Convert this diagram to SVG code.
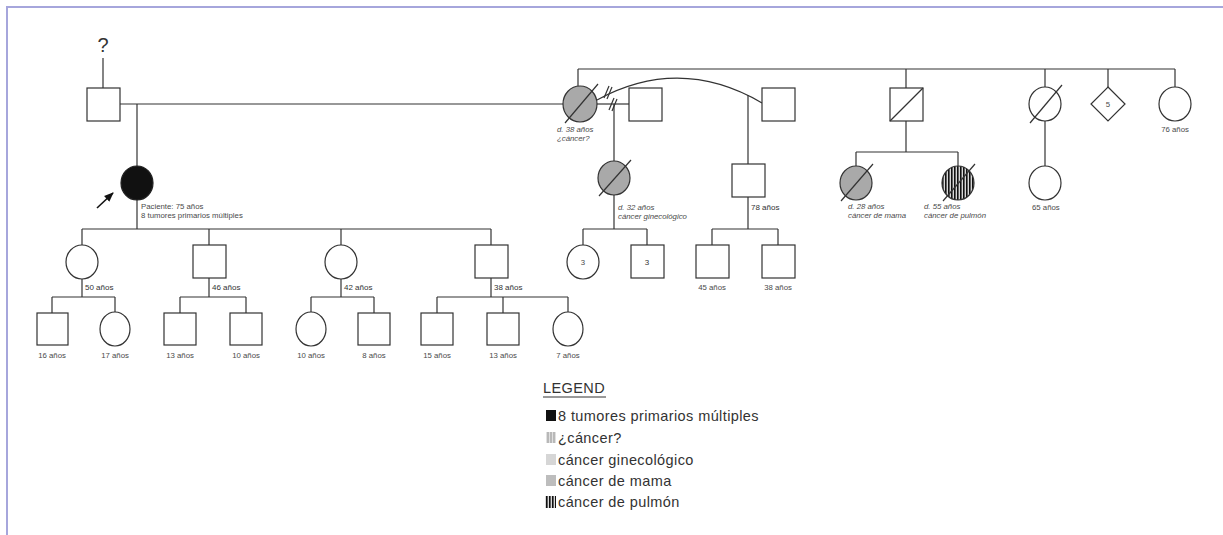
<svg xmlns="http://www.w3.org/2000/svg" width="1223" height="535" viewBox="0 0 1223 535">
<defs>
<style>
.ln{stroke:#333;stroke-width:1.2;fill:none}
.sh{stroke:#333;stroke-width:1.2;fill:#fff}
.gr{stroke:#333;stroke-width:1.2;fill:#a9a9a9}
.bk{stroke:#222;stroke-width:1.2;fill:#111}
.t{font-family:"Liberation Sans",Arial,sans-serif;font-size:7.8px;fill:#4a4a4a}
.ti{font-family:"Liberation Sans",Arial,sans-serif;font-size:7.8px;fill:#4a4a4a;font-style:italic}
.tb{font-family:"Liberation Sans",Arial,sans-serif;font-size:8px;fill:#333}
.lg{font-family:"Liberation Sans",Arial,sans-serif;font-size:14.5px;letter-spacing:0.4px;fill:#333}
</style>
<pattern id="vstripe" width="3" height="4" patternUnits="userSpaceOnUse">
<rect width="3" height="4" fill="#d8d8d8"/>
<rect width="1.6" height="4" fill="#111"/>
</pattern>
<pattern id="lstripe" width="3" height="4" patternUnits="userSpaceOnUse">
<rect width="3" height="4" fill="#b8b8b8"/>
<rect width="1" height="4" fill="#e0e0e0"/>
</pattern>
<marker id="arr" viewBox="0 0 10 10" refX="9" refY="5" markerWidth="6" markerHeight="6" orient="auto">
<path d="M0,1 L10,5 L0,9 Z" fill="#111"/>
</marker>
</defs>
<rect width="1223" height="535" fill="#fff"/>
<path d="M7,535 V7 H1223" stroke="#a6a6dc" stroke-width="2" fill="none"/>

<g id="connectors">
<line class="ln" x1="103" y1="58" x2="103" y2="88"/>
<line class="ln" x1="120" y1="104" x2="563" y2="104"/>
<line class="ln" x1="137" y1="104" x2="137" y2="166"/>
<line class="ln" x1="137" y1="199" x2="137" y2="229"/>
<line class="ln" x1="82" y1="229" x2="491" y2="229"/>
<line class="ln" x1="82" y1="229" x2="82" y2="245"/>
<line class="ln" x1="209" y1="229" x2="209" y2="245"/>
<line class="ln" x1="341" y1="229" x2="341" y2="245"/>
<line class="ln" x1="491" y1="229" x2="491" y2="245"/>
<line class="ln" x1="82" y1="279" x2="82" y2="297"/>
<line class="ln" x1="209" y1="278" x2="209" y2="297"/>
<line class="ln" x1="341" y1="279" x2="341" y2="297"/>
<line class="ln" x1="491" y1="278" x2="491" y2="297"/>
<line class="ln" x1="52" y1="297" x2="115" y2="297"/>
<line class="ln" x1="180" y1="297" x2="246" y2="297"/>
<line class="ln" x1="311" y1="297" x2="374" y2="297"/>
<line class="ln" x1="437" y1="297" x2="568" y2="297"/>
<line class="ln" x1="52" y1="297" x2="52" y2="313"/>
<line class="ln" x1="115" y1="297" x2="115" y2="312"/>
<line class="ln" x1="180" y1="297" x2="180" y2="313"/>
<line class="ln" x1="246" y1="297" x2="246" y2="313"/>
<line class="ln" x1="311" y1="297" x2="311" y2="312"/>
<line class="ln" x1="374" y1="297" x2="374" y2="313"/>
<line class="ln" x1="437" y1="297" x2="437" y2="313"/>
<line class="ln" x1="503" y1="297" x2="503" y2="313"/>
<line class="ln" x1="568" y1="297" x2="568" y2="312"/>
<line class="ln" x1="578" y1="69" x2="1175" y2="69"/>
<line class="ln" x1="578" y1="69" x2="578" y2="86"/>
<line class="ln" x1="906" y1="69" x2="906" y2="88"/>
<line class="ln" x1="1045" y1="69" x2="1045" y2="87"/>
<line class="ln" x1="1108" y1="69" x2="1108" y2="87"/>
<line class="ln" x1="1175" y1="69" x2="1175" y2="87"/>
<line class="ln" x1="597" y1="104" x2="629" y2="104"/>
<path class="ln" d="M597,100 Q680,55 762,103"/>
<line class="ln" x1="604" y1="98" x2="609" y2="86"/>
<line class="ln" x1="607" y1="99" x2="612" y2="87"/>
<line class="ln" x1="609" y1="110" x2="614" y2="98"/>
<line class="ln" x1="612" y1="111" x2="617" y2="99"/>
<line class="ln" x1="614" y1="104" x2="614" y2="161"/>
<line class="ln" x1="748" y1="95" x2="748" y2="164"/>
<line class="ln" x1="614" y1="195" x2="614" y2="229"/>
<line class="ln" x1="583" y1="229" x2="647" y2="229"/>
<line class="ln" x1="583" y1="229" x2="583" y2="246"/>
<line class="ln" x1="647" y1="229" x2="647" y2="245"/>
<line class="ln" x1="748" y1="197" x2="748" y2="229"/>
<line class="ln" x1="712" y1="229" x2="778" y2="229"/>
<line class="ln" x1="712" y1="229" x2="712" y2="245"/>
<line class="ln" x1="778" y1="229" x2="778" y2="245"/>
<line class="ln" x1="906" y1="121" x2="906" y2="152"/>
<line class="ln" x1="856" y1="152" x2="958" y2="152"/>
<line class="ln" x1="856" y1="152" x2="856" y2="166"/>
<line class="ln" x1="958" y1="152" x2="958" y2="166"/>
<line class="ln" x1="1045" y1="121" x2="1045" y2="166"/>
<line x1="97" y1="208" x2="113" y2="193" stroke="#111" stroke-width="1.6" marker-end="url(#arr)"/>
</g>

<g id="n-grandfather">
<text x="103" y="52" text-anchor="middle" style="font-family:'Liberation Sans',Arial,sans-serif;font-size:20px;fill:#333">?</text>
<rect class="sh" x="87" y="88" width="33" height="33"/>
</g>
<g id="n-proband">
<ellipse class="bk" cx="137" cy="183" rx="16" ry="17"/>
<text class="t" x="141" y="209">Paciente: 75 años</text>
<text class="t" x="141" y="218">8 tumores primarios múltiples</text>
</g>
<g id="n-k1"><ellipse class="sh" cx="82" cy="262" rx="16" ry="17"/><text class="tb" x="85" y="290">50 años</text></g>
<g id="n-k2"><rect class="sh" x="193" y="245" width="33" height="33"/><text class="tb" x="212" y="290">46 años</text></g>
<g id="n-k3"><ellipse class="sh" cx="341" cy="262" rx="16" ry="17"/><text class="tb" x="344" y="290">42 años</text></g>
<g id="n-k4"><rect class="sh" x="475" y="245" width="33" height="33"/><text class="tb" x="494" y="290">38 años</text></g>

<g id="n-g1"><rect class="sh" x="37" y="313" width="31" height="32"/><text class="t" x="52" y="358" text-anchor="middle">16 años</text></g>
<g id="n-g2"><ellipse class="sh" cx="115" cy="329" rx="15" ry="17"/><text class="t" x="115" y="358" text-anchor="middle">17 años</text></g>
<g id="n-g3"><rect class="sh" x="164" y="313" width="32" height="32"/><text class="t" x="180" y="358" text-anchor="middle">13 años</text></g>
<g id="n-g4"><rect class="sh" x="230" y="313" width="32" height="32"/><text class="t" x="246" y="358" text-anchor="middle">10 años</text></g>
<g id="n-g5"><ellipse class="sh" cx="311" cy="329" rx="15" ry="17"/><text class="t" x="311" y="358" text-anchor="middle">10 años</text></g>
<g id="n-g6"><rect class="sh" x="358" y="313" width="32" height="32"/><text class="t" x="374" y="358" text-anchor="middle">8 años</text></g>
<g id="n-g7"><rect class="sh" x="421" y="313" width="32" height="32"/><text class="t" x="437" y="358" text-anchor="middle">15 años</text></g>
<g id="n-g8"><rect class="sh" x="487" y="313" width="32" height="32"/><text class="t" x="503" y="358" text-anchor="middle">13 años</text></g>
<g id="n-g9"><ellipse class="sh" cx="568" cy="329" rx="15" ry="17"/><text class="t" x="568" y="358" text-anchor="middle">7 años</text></g>

<g id="n-grandmother">
<ellipse class="gr" cx="580" cy="104" rx="17" ry="18"/>
<line class="ln" x1="565" y1="123" x2="598" y2="84"/>
<text class="ti" x="557" y="132">d. 38 años</text>
<text class="ti" x="557" y="141">¿cáncer?</text>
</g>
<g id="n-husband2"><rect class="sh" x="629" y="88" width="33" height="33"/></g>
<g id="n-husband3"><rect class="sh" x="762" y="88" width="33" height="33"/></g>
<g id="n-aunt">
<ellipse class="gr" cx="614" cy="178" rx="16" ry="17"/>
<line class="ln" x1="599" y1="196" x2="631" y2="160"/>
<text class="ti" x="618" y="210">d. 32 años</text>
<text class="ti" x="618" y="219">cáncer ginecológico</text>
</g>
<g id="n-uncle">
<rect class="sh" x="732" y="164" width="33" height="33"/>
<text class="tb" x="751" y="210">78 años</text>
</g>
<g id="n-c3f"><ellipse class="sh" cx="583" cy="262" rx="16" ry="17"/><text class="t" x="583" y="265" text-anchor="middle">3</text></g>
<g id="n-c3m"><rect class="sh" x="631" y="245" width="33" height="33"/><text class="tb" x="647" y="265" text-anchor="middle">3</text></g>
<g id="n-c45"><rect class="sh" x="696" y="245" width="33" height="33"/><text class="t" x="712" y="290" text-anchor="middle">45 años</text></g>
<g id="n-c38"><rect class="sh" x="762" y="245" width="33" height="33"/><text class="t" x="778" y="290" text-anchor="middle">38 años</text></g>

<g id="n-granduncle">
<rect class="sh" x="890" y="88" width="33" height="33"/>
<line class="ln" x1="890" y1="121" x2="923" y2="88"/>
</g>
<g id="n-cousin1">
<ellipse class="gr" cx="856" cy="183" rx="16" ry="17"/>
<line class="ln" x1="841" y1="201" x2="873" y2="164"/>
<text class="ti" x="848" y="209">d. 28 años</text>
<text class="ti" x="848" y="218">cáncer de mama</text>
</g>
<g id="n-cousin2">
<ellipse cx="958" cy="183" rx="16" ry="17" fill="url(#vstripe)" stroke="#333" stroke-width="1.2"/>
<line class="ln" x1="943" y1="201" x2="975" y2="164"/>
<text class="ti" x="924" y="209">d. 55 años</text>
<text class="ti" x="924" y="218">cáncer de pulmón</text>
</g>
<g id="n-grandaunt">
<ellipse class="sh" cx="1045" cy="104" rx="16" ry="17"/>
<line class="ln" x1="1030" y1="123" x2="1062" y2="85"/>
</g>
<g id="n-cousin3">
<ellipse class="sh" cx="1045" cy="183" rx="16" ry="17"/>
<text class="t" x="1032" y="210">65 años</text>
</g>
<g id="n-five">
<path class="sh" d="M1108,87 L1125,104 L1108,121 L1091,104 Z"/>
<text class="t" x="1108" y="107" text-anchor="middle">5</text>
</g>
<g id="n-grandaunt2">
<ellipse class="sh" cx="1175" cy="104" rx="16" ry="17"/>
<text class="t" x="1175" y="132" text-anchor="middle">76 años</text>
</g>

<g id="legend">
<text class="lg" x="543" y="393">LEGEND</text>
<line x1="543" y1="397" x2="606" y2="397" stroke="#333" stroke-width="1"/>
<rect x="546" y="410" width="10" height="11" fill="#111"/>
<text class="lg" x="558" y="421">8 tumores primarios múltiples</text>
<rect x="546" y="432" width="10" height="11" fill="url(#lstripe)"/>
<text class="lg" x="558" y="443">¿cáncer?</text>
<rect x="546" y="454" width="10" height="11" fill="#d6d6d6"/>
<text class="lg" x="558" y="465">cáncer ginecológico</text>
<rect x="546" y="475" width="10" height="11" fill="#bdbdbd"/>
<text class="lg" x="558" y="486">cáncer de mama</text>
<rect x="545" y="496" width="11" height="12" fill="url(#vstripe)"/>
<text class="lg" x="558" y="507">cáncer de pulmón</text>
</g>
</svg>
